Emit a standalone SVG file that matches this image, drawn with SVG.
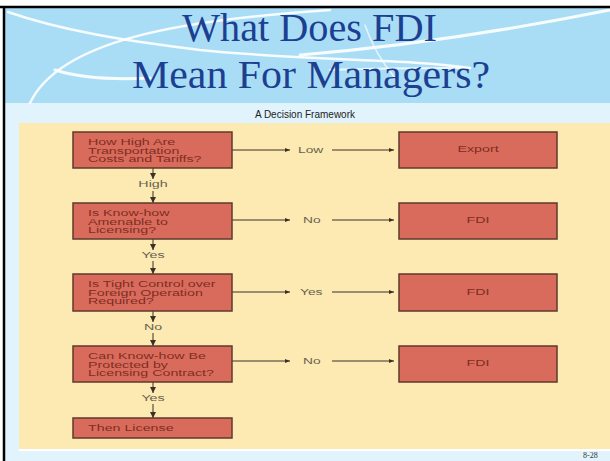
<svg xmlns="http://www.w3.org/2000/svg" width="610" height="461" viewBox="0 0 610 461">
<defs>
<marker id="ah" viewBox="0 0 10 10" refX="10" refY="5" markerWidth="7" markerHeight="5" orient="auto" markerUnits="userSpaceOnUse">
<path d="M0,1 L10,5 L0,9 Z" fill="#3a3028"/>
</marker>
<marker id="av" viewBox="0 0 10 10" refX="10" refY="5" markerWidth="7" markerHeight="6" orient="auto" markerUnits="userSpaceOnUse">
<path d="M0,0 L10,5 L0,10 Z" fill="#3a3028"/>
</marker>
</defs>
<style>
.box{fill:#d96b5c;stroke:#5e3a2c;stroke-width:1.5}
.bt{font-family:"Liberation Sans",Arial,sans-serif;font-size:9.5px;fill:#7e2e22}
.bc{font-family:"Liberation Sans",Arial,sans-serif;font-size:9.5px;fill:#7e2e22;text-anchor:middle}
.lb{font-family:"Liberation Sans",Arial,sans-serif;font-size:9.5px;fill:#66624f}
.lc{font-family:"Liberation Sans",Arial,sans-serif;font-size:9.5px;fill:#66624f;text-anchor:middle}
.c{stroke:#3a3028;stroke-width:1;fill:none}
.sw{stroke:#ffffff;fill:none;stroke-linecap:round}
.title{font-family:"Liberation Serif","DejaVu Serif",serif;font-size:40px;fill:#1d3f91}
</style>
<rect x="0" y="0" width="610" height="461" fill="#ffffff"/>
<rect x="5" y="8" width="605" height="453" fill="#e1f4fd"/>
<rect x="5" y="8" width="605" height="95" fill="#a9ddf6"/>
<g id="swooshes">
<path class="sw" d="M8,12 C60,30 120,40 200,50 C320,62 400,58 470,68" stroke-width="2.5" opacity="0.9"/>
<path class="sw" d="M30,103 C60,40 180,20 330,10" stroke-width="2.5" opacity="0.9"/>
<path class="sw" d="M55,70 C80,78 110,80 150,78" stroke-width="3" opacity="0.9"/>
<path class="sw" d="M300,55 C420,45 520,28 610,10" stroke-width="3" opacity="0.9"/>
<path class="sw" d="M330,70 C380,68 420,68 470,68" stroke-width="2" opacity="0.8"/>
<path class="sw" d="M395,78 C380,60 370,40 365,25" stroke-width="1.5" opacity="0.7"/>
</g>
<line x1="0" y1="7" x2="610" y2="7" stroke="#000" stroke-width="2.5"/>
<line x1="4" y1="6" x2="4" y2="461" stroke="#000" stroke-width="2.5"/>
<text class="title" x="182" y="41" textLength="255" lengthAdjust="spacingAndGlyphs">What Does FDI</text>
<text class="title" x="132" y="88" textLength="358" lengthAdjust="spacingAndGlyphs">Mean For Managers?</text>
<text x="305" y="118" font-family="'Liberation Sans',Arial,sans-serif" font-size="10px" fill="#222" text-anchor="middle">A Decision Framework</text>
<rect x="19" y="123" width="591" height="326" fill="#fde9b2"/>
<line x1="19" y1="450" x2="610" y2="450" stroke="#ffffff" stroke-width="2"/>
<g id="connectors">
<line class="c" x1="232" y1="150" x2="290" y2="150" marker-end="url(#ah)"/>
<line class="c" x1="332" y1="150" x2="394" y2="150" marker-end="url(#ah)"/>
<line class="c" x1="232" y1="220" x2="290" y2="220" marker-end="url(#ah)"/>
<line class="c" x1="332" y1="220" x2="394" y2="220" marker-end="url(#ah)"/>
<line class="c" x1="232" y1="292" x2="290" y2="292" marker-end="url(#ah)"/>
<line class="c" x1="332" y1="292" x2="394" y2="292" marker-end="url(#ah)"/>
<line class="c" x1="232" y1="361" x2="290" y2="361" marker-end="url(#ah)"/>
<line class="c" x1="332" y1="361" x2="394" y2="361" marker-end="url(#ah)"/>
<line class="c" x1="153" y1="168" x2="153" y2="179" marker-end="url(#av)"/>
<line class="c" x1="153" y1="191" x2="153" y2="203" marker-end="url(#av)"/>
<line class="c" x1="153" y1="239" x2="153" y2="250" marker-end="url(#av)"/>
<line class="c" x1="153" y1="261" x2="153" y2="274" marker-end="url(#av)"/>
<line class="c" x1="153" y1="311" x2="153" y2="322" marker-end="url(#av)"/>
<line class="c" x1="153" y1="333" x2="153" y2="346" marker-end="url(#av)"/>
<line class="c" x1="153" y1="382" x2="153" y2="393" marker-end="url(#av)"/>
<line class="c" x1="153" y1="404" x2="153" y2="418" marker-end="url(#av)"/>
<text class="lb" transform="matrix(1.45,0,0,1,298,153)">Low</text>
<text class="lb" transform="matrix(1.45,0,0,1,303,223)">No</text>
<text class="lb" transform="matrix(1.45,0,0,1,300,295)">Yes</text>
<text class="lb" transform="matrix(1.45,0,0,1,303,364)">No</text>
<text class="lc" transform="matrix(1.5,0,0,1,153,187)">High</text>
<text class="lc" transform="matrix(1.5,0,0,1,153,258)">Yes</text>
<text class="lc" transform="matrix(1.5,0,0,1,153,330)">No</text>
<text class="lc" transform="matrix(1.5,0,0,1,153,401)">Yes</text>
</g>
<g id="q1"><rect class="box" x="73" y="132" width="159" height="36"/>
<text class="bt" transform="matrix(1.5,0,0,1,88,145)">How High Are</text><text class="bt" transform="matrix(1.5,0,0,1,88,153.5)">Transportation</text><text class="bt" transform="matrix(1.5,0,0,1,88,162)">Costs and Tariffs?</text></g>
<g id="q2"><rect class="box" x="73" y="203" width="159" height="36"/>
<text class="bt" transform="matrix(1.5,0,0,1,88,216)">Is Know-how</text><text class="bt" transform="matrix(1.5,0,0,1,88,224.5)">Amenable to</text><text class="bt" transform="matrix(1.5,0,0,1,88,233)">Licensing?</text></g>
<g id="q3"><rect class="box" x="73" y="274" width="159" height="37"/>
<text class="bt" transform="matrix(1.5,0,0,1,88,287)">Is Tight Control over</text><text class="bt" transform="matrix(1.5,0,0,1,88,295.5)">Foreign Operation</text><text class="bt" transform="matrix(1.5,0,0,1,88,304)">Required?</text></g>
<g id="q4"><rect class="box" x="73" y="346" width="159" height="36"/>
<text class="bt" transform="matrix(1.5,0,0,1,88,359)">Can Know-how Be</text><text class="bt" transform="matrix(1.5,0,0,1,88,367.5)">Protected by</text><text class="bt" transform="matrix(1.5,0,0,1,88,376)">Licensing Contract?</text></g>
<g id="license"><rect class="box" x="73" y="418" width="159" height="20"/>
<text class="bt" transform="matrix(1.5,0,0,1,88,431)">Then License</text></g>
<g id="export"><rect class="box" x="399" y="132" width="158" height="36"/><text class="bc" transform="matrix(1.5,0,0,1,478,152)">Export</text></g>
<g id="fdi1"><rect class="box" x="399" y="203" width="158" height="36"/><text class="bc" transform="matrix(1.5,0,0,1,478,223)">FDI</text></g>
<g id="fdi2"><rect class="box" x="399" y="274" width="158" height="37"/><text class="bc" transform="matrix(1.5,0,0,1,478,295)">FDI</text></g>
<g id="fdi3"><rect class="box" x="399" y="346" width="158" height="36"/><text class="bc" transform="matrix(1.5,0,0,1,478,366)">FDI</text></g>
<text x="583" y="458" font-family="'Liberation Serif',serif" font-size="8px" fill="#333">8-28</text>
</svg>
